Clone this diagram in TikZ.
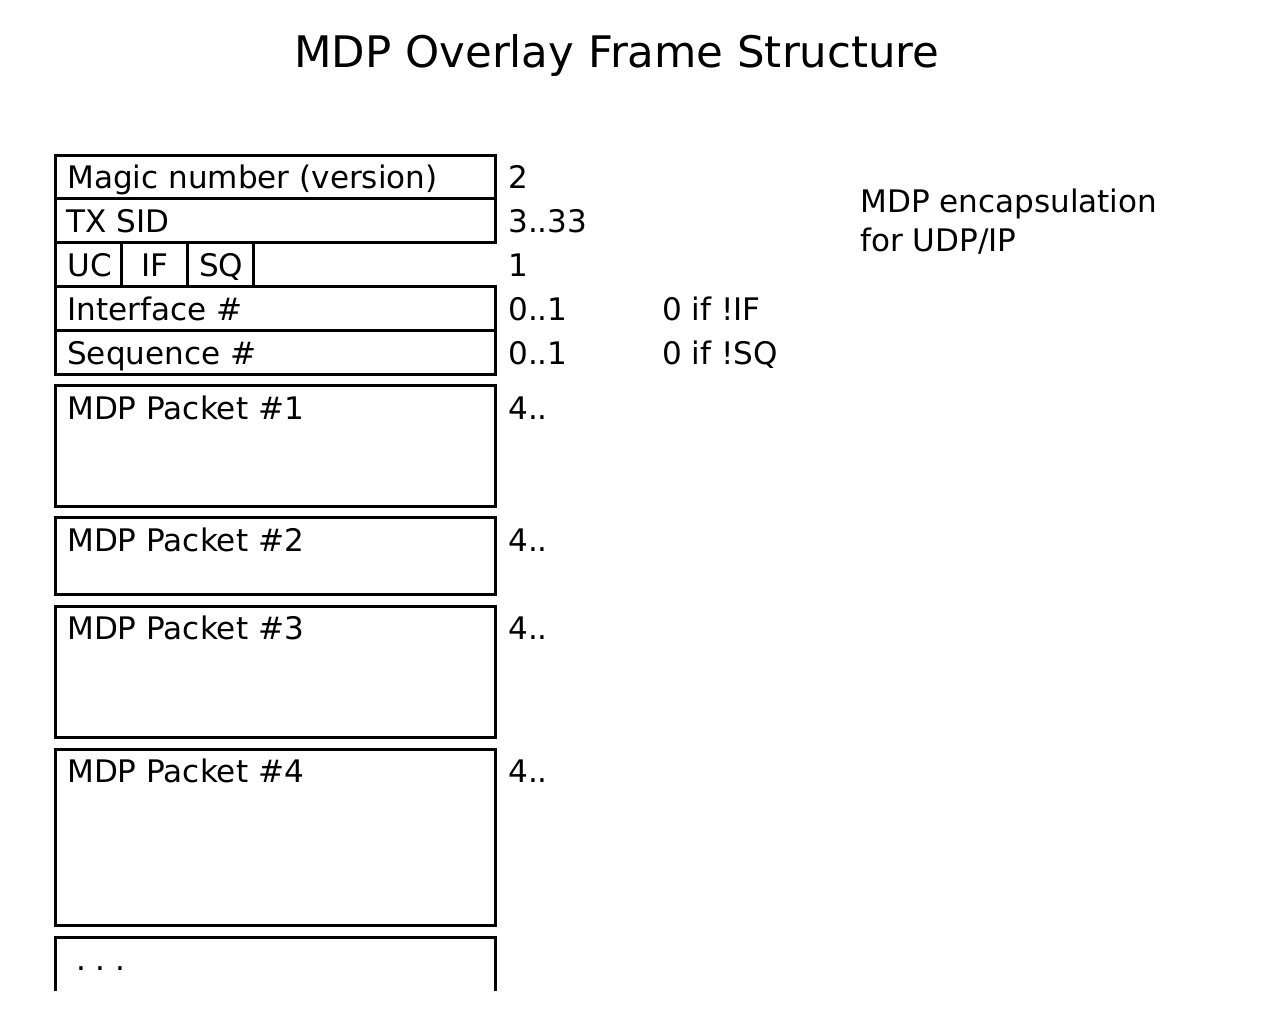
\documentclass[tikz,border=0pt]{standalone}
\usepackage{fontspec}
\setmainfont{DejaVu Sans}
\frenchspacing
\begin{document}
\begin{tikzpicture}[x=0.75pt,y=-0.75pt,
  box/.style={draw=black,line width=2.25pt},
  lbl/.style={anchor=base west,inner sep=0pt,font=\fontsize{23.3}{27}\selectfont},
  ttl/.style={anchor=base,inner sep=0pt,font=\fontsize{32.6}{38}\selectfont}]
\useasboundingbox[fill=white] (0,0) rectangle (1280,1015);
\node[ttl] (title) at (617,67) {MDP Overlay Frame Structure};
% header rows
\draw[box] (55,155) rectangle (495,198);
\draw[box] (55,198) rectangle (495,242);
\draw[box] (55,242) rectangle (253,286);
\draw[box] (121,242) -- (121,286);
\draw[box] (187,242) -- (187,286);
\draw[box] (55,286) rectangle (495,330);
\draw[box] (55,330) rectangle (495,374);
% packets
\draw[box] (55,385) rectangle (495,506);
\draw[box] (55,517) rectangle (495,594);
\draw[box] (55,606) rectangle (495,737);
\draw[box] (55,749) rectangle (495,925);
\draw[box] (55,991) -- (55,937) -- (495,937) -- (495,991);
% left labels
\node[lbl] (magic) at (67,188) {Magic number (version)};
\node[lbl] (txsid) at (66,232) {TX SID};
\node[lbl] (uc) at (67,276) {UC};
\node[lbl] (if) at (141,276) {IF};
\node[lbl] (sq) at (199,276) {SQ};
\node[lbl] (iface) at (67,320) {Interface \#};
\node[lbl] (seq) at (67,364) {Sequence \#};
\node[lbl] (p1) at (67,419) {MDP Packet \#1};
\node[lbl] (p2) at (67,551) {MDP Packet \#2};
\node[lbl] (p3) at (67,639) {MDP Packet \#3};
\node[lbl] (p4) at (67,782) {MDP Packet \#4};
\node[lbl] (dots) at (76,970) {. . .};
% sizes
\node[lbl] (s1) at (508,188) {2};
\node[lbl] (s2) at (508,232) {3..33};
\node[lbl] (s3) at (508,276) {1};
\node[lbl] (s4) at (508,320) {0..1};
\node[lbl] (s5) at (508,364) {0..1};
\node[lbl] (s6) at (508,419) {4..};
\node[lbl] (s7) at (508,551) {4..};
\node[lbl] (s8) at (508,639) {4..};
\node[lbl] (s9) at (508,782) {4..};
% notes
\node[lbl] (n1) at (662,320) {0 if !IF};
\node[lbl] (n2) at (662,364) {0 if !SQ};
\node[lbl] (enc1) at (860,212) {MDP encapsulation};
\node[lbl] (enc2) at (860,251) {for UDP/IP};
\end{tikzpicture}
\end{document}
